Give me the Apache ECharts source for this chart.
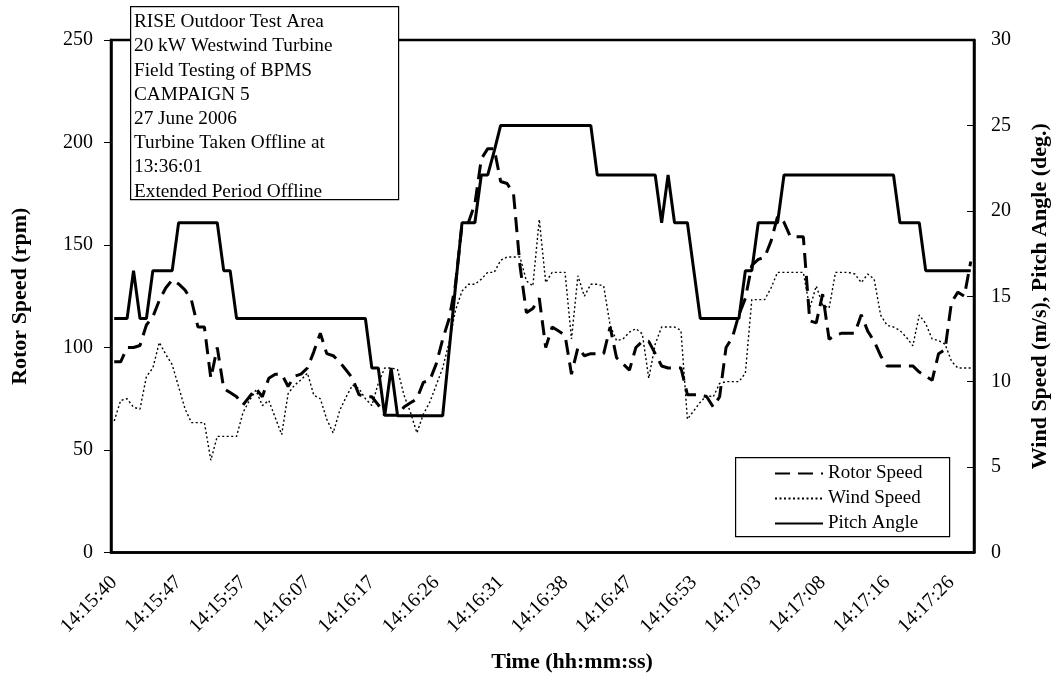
<!DOCTYPE html>
<html><head><meta charset="utf-8">
<script src="https://cdn.jsdelivr.net/npm/echarts@6/dist/echarts.min.js"></script>
<style>html,body{margin:0;padding:0;background:#fff;overflow:hidden}#c{width:1052px;height:677px}</style>
</head><body><div id="c"></div>
<script>
const tickLabels = ['14:15:40','14:15:47','14:15:57','14:16:07','14:16:17','14:16:26','14:16:31','14:16:38','14:16:47','14:16:53','14:17:03','14:17:08','14:17:16','14:17:26'];
const rotorSpeed = [93,93,100,100,101,111,115,123,129,133,131,128,123,110,110,85,100,80,78,76,72,76,80,76,85,87,87,81,86,87,90,98,107,97,96,93,89,85,77,76,76,72,67,67,67,71,73,75,83,84,92,104,114,131,160,161,170,192,197,197,181,180,175,140,117,119,124,100,110,108,106,87,100,96,97,97,97,110,95,92,89,100,103,103,97,91,90,90,90,77,77,77,76,71,76,100,105,116,124,140,143,144,152,164,161,154,154,154,113,112,126,104,106,107,107,107,116,108,103,96,91,91,91,91,91,88,86,84,97,99,122,127,125,142];
const windSpeed = [7.7,8.9,9.0,8.5,8.4,10.3,10.8,12.3,11.6,11.0,9.7,8.4,7.6,7.6,7.6,5.4,6.8,6.8,6.8,6.8,8.2,8.9,9.5,8.6,8.9,7.9,6.9,9.3,9.8,10.1,10.5,9.2,9.0,7.8,7.0,8.3,9.1,9.8,9.6,9.0,8.6,9.9,10.8,10.8,10.7,9.2,8.2,7.0,8.1,8.8,9.8,10.8,12.3,14.2,15.3,15.7,15.7,16.0,16.4,16.4,17.1,17.3,17.3,17.3,15.9,15.6,19.5,15.8,16.4,16.4,16.4,12.5,16.2,15.0,15.7,15.7,15.6,13.3,12.4,12.5,12.9,13.1,12.8,10.2,12.2,13.2,13.2,13.2,13.0,7.8,8.3,8.8,9.2,9.1,9.9,10.0,10.0,10.0,10.5,14.8,14.8,14.8,15.5,16.4,16.4,16.4,16.4,16.4,14.3,15.6,14.5,14.3,16.4,16.4,16.4,16.3,15.8,16.3,16.0,13.9,13.3,13.2,13.0,12.6,12.1,13.9,13.4,12.5,12.4,12.2,11.2,10.8,10.8,10.8];
const pitchAngle = [13.7,13.7,13.7,16.5,13.7,13.7,16.5,16.5,16.5,16.5,19.3,19.3,19.3,19.3,19.3,19.3,19.3,16.5,16.5,13.7,13.7,13.7,13.7,13.7,13.7,13.7,13.7,13.7,13.7,13.7,13.7,13.7,13.7,13.7,13.7,13.7,13.7,13.7,13.7,13.7,10.8,10.8,8,10.8,8,8,8,8,8,8,8,8,11.8,15.6,19.3,19.3,19.3,22.1,22.1,23.5,25,25,25,25,25,25,25,25,25,25,25,25,25,25,25,22.1,22.1,22.1,22.1,22.1,22.1,22.1,22.1,22.1,22.1,19.3,22.1,19.3,19.3,19.3,16.5,13.7,13.7,13.7,13.7,13.7,13.7,13.7,16.5,16.5,19.3,19.3,19.3,19.3,22.1,22.1,22.1,22.1,22.1,22.1,22.1,22.1,22.1,22.1,22.1,22.1,22.1,22.1,22.1,22.1,22.1,22.1,19.3,19.3,19.3,19.3,16.5,16.5,16.5,16.5,16.5,16.5,16.5,16.5];
const noteLines = ['RISE Outdoor Test Area','20 kW Westwind Turbine','Field Testing of BPMS','CAMPAIGN 5','27 June 2006','Turbine Taken Offline at','13:36:01','Extended Period Offline'];
const samples = rotorSpeed.map((_, i) => i);

const F = 'Liberation Serif';
const titleStyle = { fontFamily: F, fontSize: 22, fontWeight: 'bold', color: '#000' };
const chart = echarts.init(document.getElementById('c'), null, { width: 1052, height: 677 });
chart.setOption({
  backgroundColor: '#fff',
  animation: false,
  textStyle: { fontFamily: F, color: '#000' },
  grid: { left: 111, right: 78, top: 40, bottom: 124.5, show: true, borderColor: '#000', borderWidth: 2.5,
    containLabel: false, outerBoundsMode: 'none' },
  legend: {
    orient: 'vertical', left: 769, top: 459, itemWidth: 48, itemHeight: 14, itemGap: 6, z: 6,
    itemStyle: { opacity: 0 },
    textStyle: { fontFamily: F, fontSize: 19, color: '#000' },
    data: ['Rotor Speed', 'Wind Speed', 'Pitch Angle']
  },
  xAxis: {
    type: 'category', data: samples, boundaryGap: true,
    axisLine: { lineStyle: { color: '#000', width: 2.5 } },
    axisTick: { inside: true, length: 7, interval: 9, lineStyle: { color: '#000', width: 1 } },
    axisLabel: { interval: 9, rotate: 45, margin: 27, fontFamily: F, fontSize: 20, color: '#000',
      formatter: (v, i) => tickLabels[Math.round(i / 10)] || '' },
    splitLine: { show: false }
  },
  yAxis: [{
    type: 'value', min: 0, max: 250, interval: 50, position: 'left',
    name: 'Rotor Speed (rpm)', nameLocation: 'middle', nameGap: 80, nameTextStyle: titleStyle,
    axisLine: { show: true, lineStyle: { color: '#000', width: 2.5 } },
    axisTick: { show: true, length: 7, lineStyle: { color: '#000' } },
    axisLabel: { margin: 18, fontFamily: F, fontSize: 20, color: '#000' },
    splitLine: { show: false }
  }, {
    type: 'value', min: 0, max: 30, interval: 5, position: 'right',
    name: 'Wind Speed (m/s), Pitch Angle (deg.)', nameLocation: 'middle', nameGap: 55, nameRotate: 90,
    nameTextStyle: titleStyle,
    axisLine: { show: true, lineStyle: { color: '#000', width: 2.5 } },
    axisTick: { show: true, inside: true, length: 7, lineStyle: { color: '#000' } },
    axisLabel: { margin: 17, fontFamily: F, fontSize: 20, color: '#000' },
    splitLine: { show: false }
  }],
  series: [
    { name: 'Rotor Speed', type: 'line', yAxisIndex: 0, data: rotorSpeed, symbol: 'none',
      lineStyle: { color: '#000', width: 3, type: [15, 8] }, itemStyle: { color: '#000' } },
    { name: 'Wind Speed', type: 'line', yAxisIndex: 1, data: windSpeed, symbol: 'none',
      lineStyle: { color: '#000', width: 1.4, type: [2, 2.5] }, itemStyle: { color: '#000' } },
    { name: 'Pitch Angle', type: 'line', yAxisIndex: 1, data: pitchAngle, symbol: 'none',
      lineStyle: { color: '#000', width: 3 }, itemStyle: { color: '#000' } }
  ],
  graphic: [
    { type: 'rect', left: 130, top: 6, z: 10, shape: { width: 268, height: 193 },
      style: { fill: '#fff', stroke: '#000', lineWidth: 1.2 } },
    { type: 'text', left: 134, top: 10, z: 11,
      style: { text: noteLines.join('\n'), font: '19.3px "Liberation Serif"', lineHeight: 24.2, fill: '#000' } },
    { type: 'rect', left: 735, top: 457, z: 3, shape: { width: 214, height: 79 },
      style: { fill: '#fff', stroke: '#000', lineWidth: 1.2 } },
    { type: 'text', x: 572, y: 662, z: 11,
      style: { text: 'Time (hh:mm:ss)', font: 'bold 22px "Liberation Serif"', fill: '#000', align: 'center', verticalAlign: 'middle' } }
  ]
});
</script></body></html>
